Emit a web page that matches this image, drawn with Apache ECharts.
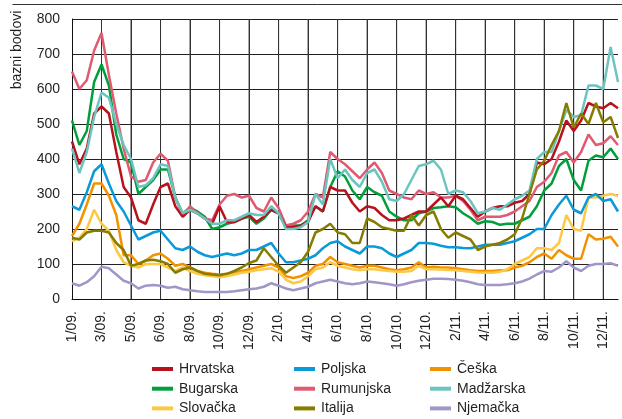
<!DOCTYPE html>
<html>
<head>
<meta charset="utf-8">
<script src="https://cdn.jsdelivr.net/npm/echarts@6/dist/echarts.min.js"></script>
<style>
    html, body {margin: 0; padding: 0; background: #fff;}
    #main {width: 622px; height: 419px;}
</style>
</head>
<body>
<div id="main"></div>
<script>
let tickLabels = ['1/09.', '3/09.', '5/09.', '6/09.', '8/09.', '10/09.', '12/09.', '2/10.', '4/10.', '6/10.',
    '8/10.', '10/10.', '12/10.', '2/11.', '4/11.', '6/11.', '8/11.', '10/11.', '12/11.'];

// vrijednosti otprilike svaka dva tjedna (4 tocke izmedu oznaka)
let hrvatska = [450, 385, 430, 530, 550, 530, 420, 320, 290, 225, 215, 270, 320, 330, 265,
    235, 255, 245, 230, 215, 265, 220, 220, 230, 240, 220, 235, 255, 245, 205,
    205, 210, 220, 265, 250, 320, 310, 310, 275, 250, 265, 260, 240, 225, 225,
    230, 240, 250, 250, 270, 290, 265, 295, 285, 260, 235, 250, 260, 265, 265,
    275, 280, 300, 390, 385, 400, 450, 510, 480, 510, 560, 550, 545, 560, 545];
let bugarska = [510, 440, 480, 620, 670, 610, 470, 400, 390, 300, 320, 340, 370, 370, 290,
    245, 260, 250, 235, 200, 205, 215, 220, 230, 235, 215, 230, 255, 245, 205,
    210, 210, 225, 265, 250, 320, 365, 350, 310, 285, 320, 305, 295, 250, 235,
    225, 225, 245, 250, 260, 262, 265, 262, 245, 232, 215, 222, 220, 212, 215,
    215, 225, 235, 265, 310, 330, 380, 400, 340, 310, 395, 410, 405, 430, 400];
let slovacka = [165, 175, 200, 255, 215, 195, 140, 105, 95, 90, 100, 100, 100, 90, 80,
    90, 80, 72, 68, 65, 62, 65, 70, 75, 78, 82, 85, 88, 78, 55,
    45, 50, 65, 85, 90, 105, 95, 90, 85, 82, 85, 85, 82, 80, 78,
    78, 80, 95, 85, 85, 84, 83, 82, 80, 78, 76, 75, 75, 78, 85,
    100, 110, 120, 145, 145, 140, 160, 240, 200, 195, 290, 290, 295, 300, 295];
let poljska = [265, 255, 305, 365, 385, 330, 280, 250, 210, 170, 180, 190, 195, 170, 145,
    140, 150, 135, 125, 120, 125, 130, 125, 130, 140, 140, 150, 160, 130, 105,
    105, 110, 115, 125, 145, 160, 165, 150, 140, 130, 150, 150, 145, 130, 120,
    130, 140, 160, 160, 158, 152, 148, 148, 146, 145, 150, 155, 155, 155, 160,
    165, 175, 185, 200, 200, 240, 270, 295, 255, 245, 290, 300, 280, 285, 250];
let rumunjska = [650, 600, 625, 710, 760, 640, 530, 430, 350, 335, 340, 390, 415, 395, 290,
    240, 265, 245, 230, 225, 270, 295, 300, 290, 295, 260, 250, 290, 260, 210,
    215, 225, 250, 300, 290, 420, 400, 385, 365, 345, 370, 390, 360, 310, 300,
    290, 285, 310, 300, 305, 290, 290, 295, 280, 255, 225, 235, 235, 235, 240,
    250, 265, 280, 320, 335, 360, 410, 420, 390, 420, 470, 440, 445, 465, 440];
let italija = [175, 170, 190, 195, 195, 190, 160, 140, 95, 100, 110, 112, 108, 100, 75,
    85, 90, 80, 72, 70, 68, 72, 80, 90, 103, 110, 145, 120, 95, 75,
    90, 105, 135, 190, 200, 215, 190, 185, 160, 160, 230, 220, 205, 200, 195,
    195, 240, 210, 240, 250, 200, 175, 190, 180, 170, 140, 150, 155, 160, 170,
    185, 230, 300, 370, 395, 440, 480, 560, 490, 530, 500, 560, 505, 520, 460];
let ceska = [180, 215, 270, 330, 330, 295, 240, 125, 125, 100, 110, 125, 130, 115, 95,
    100, 90, 80, 75, 72, 70, 72, 75, 80, 85, 90, 95, 100, 90, 65,
    60, 65, 75, 95, 100, 120, 105, 100, 95, 90, 95, 95, 90, 85, 82,
    85, 90, 105, 90, 92, 90, 90, 88, 85, 82, 80, 80, 80, 82, 82,
    90, 95, 105, 120, 130, 115, 140, 125, 115, 115, 185, 170, 172, 178, 150];
let madzarska = [430, 360, 420, 520, 590, 575, 500, 440, 400, 320, 325, 345, 385, 380, 290,
    245, 255, 245, 230, 215, 215, 225, 225, 235, 245, 240, 240, 265, 245, 200,
    200, 205, 220, 300, 270, 400, 345, 370, 340, 320, 360, 370, 335, 285, 280,
    300, 340, 380, 385, 395, 370, 300, 310, 305, 280, 245, 250, 260, 255, 270,
    285, 295, 310, 400, 420, 420, 480, 540, 520, 525, 610, 610, 600, 720, 620];
let njemacka = [45, 38, 48, 65, 92, 88, 70, 52, 45, 30, 38, 40, 38, 32, 35,
    28, 25, 22, 20, 20, 20, 20, 22, 25, 28, 30, 35, 45, 38, 30,
    25, 30, 35, 45, 50, 55, 50, 45, 42, 45, 50, 48, 45, 42, 38,
    42, 48, 52, 55, 58, 58, 57, 55, 52, 48, 42, 40, 40, 40, 42,
    45, 50, 58, 70, 80, 78, 90, 108, 90, 80, 95, 100, 100, 102, 95];

let fontFamily = 'Liberation Sans, Arial, sans-serif';
let textColor = '#231f20';
let categories = hrvatska.map((v, i) => i);
let yMax = 800;

let myChart = echarts.init(document.getElementById('main'));

let lineSeries = (name, data, color) => {
    return {
        name: name,
        type: 'line',
        data: data,
        symbol: 'none',
        silent: true,
        z: 3,
        lineStyle: {color: color, width: 2.5},
        itemStyle: {color: color}
    }
};

let legendCol = (names, left) => {
    return {
        data: names,
        orient: 'vertical',
        left: left,
        top: 362,
        padding: 0,
        icon: 'rect',
        itemWidth: 21,
        itemHeight: 4,
        itemGap: 5.7,
        selectedMode: false,
        textStyle: {fontSize: 14, fontFamily: fontFamily, color: textColor, padding: [0, 0, 0, 1]}
    }
};

// okomite linije mreze na svakoj oznaci datuma, crtane kroz skalu osi
let gridSeries = {
    name: 'mreza',
    type: 'custom',
    silent: true,
    clip: false,
    z: 1,
    data: tickLabels.slice(1).map((t, k) => [(k + 1) * 4]),
    renderItem: (params, api) => {
        let x = api.value(0);
        let top = api.coord([x, yMax]);
        let bottom = api.coord([x, 0]);
        return {
            type: 'line',
            shape: {x1: top[0], y1: top[1], x2: bottom[0], y2: bottom[1]},
            style: {stroke: '#333', lineWidth: 1}
        };
    }
};

myChart.setOption({
    animation: false,
    grid: {left: 72, top: 19, right: 4, bottom: 120},
    legend: [
        legendCol(['Hrvatska', 'Bugarska', 'Slovačka'], 152),
        legendCol(['Poljska', 'Rumunjska', 'Italija'], 294),
        legendCol(['Češka', 'Madžarska', 'Njemačka'], 430)
    ],
    graphic: [
        {
            type: 'line',
            shape: {x1: 12.5, y1: 4.5, x2: 622, y2: 4.5},
            style: {stroke: '#333', lineWidth: 1}
        },
        {
            type: 'text',
            x: 17.5,
            y: 50,
            rotation: Math.PI / 2,
            style: {
                text: 'bazni bodovi',
                fontSize: 14,
                fontFamily: fontFamily,
                fill: textColor,
                textAlign: 'center',
                textVerticalAlign: 'middle'
            }
        }
    ],
    xAxis: {
        type: 'category',
        boundaryGap: false,
        data: categories,
        axisTick: {show: false},
        axisLine: {lineStyle: {color: '#111', width: 1}},
        axisLabel: {
            interval: 3,
            rotate: 90,
            margin: 12,
            fontSize: 14,
            fontFamily: fontFamily,
            color: textColor,
            formatter: (v, i) => tickLabels[i / 4] || ''
        },
        splitLine: {show: true, interval: 3, lineStyle: {color: '#333', width: 1}}
    },
    yAxis: {
        type: 'value',
        min: 0,
        max: yMax,
        interval: 100,
        axisLine: {show: true, lineStyle: {color: '#111', width: 1}},
        axisTick: {show: false},
        axisLabel: {margin: 12, fontSize: 14, fontFamily: fontFamily, color: textColor},
        splitLine: {lineStyle: {color: '#222', width: 1}}
    },
    series: [
        gridSeries,
        lineSeries('Njemačka', njemacka, '#a295c8'),
        lineSeries('Češka', ceska, '#f39200'),
        lineSeries('Slovačka', slovacka, '#fdc845'),
        lineSeries('Poljska', poljska, '#0a9ad8'),
        lineSeries('Bugarska', bugarska, '#009f3c'),
        lineSeries('Rumunjska', rumunjska, '#e05a72'),
        lineSeries('Hrvatska', hrvatska, '#b8131d'),
        lineSeries('Madžarska', madzarska, '#6cc4c0'),
        lineSeries('Italija', italija, '#867d00')
    ]
});
</script>
</body>
</html>
